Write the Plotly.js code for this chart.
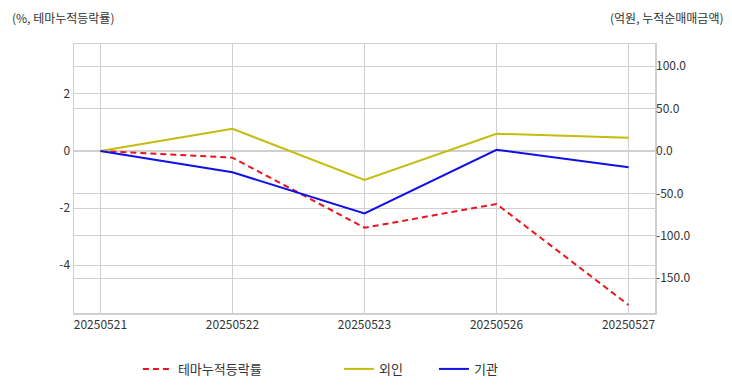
<!DOCTYPE html>
<html>
<head>
<meta charset="utf-8">
<script src="https://cdn.plot.ly/plotly-3.0.1.min.js"></script>
<style>html,body{margin:0;padding:0;background:#fff;}#chart{width:732px;height:392px;}</style>
</head>
<body>
<div id="chart"></div>
<script>
var dates = ["20250521", "20250522", "20250523", "20250526", "20250527"];
var themeRate = [0, -0.235, -2.69, -1.86, -5.40];
var foreign = [0, 26.3, -34.2, 20.4, 15.7];
var institution = [0, -25.1, -73.5, 1.5, -19.2];

var leftTickVals = [-4, -2, 0, 2];
var leftTickText = ["-4", "-2", "0", "2"];
var rightTickVals = [-150, -100, -50, 0, 50, 100];
var rightTickText = ["-150.0", "-100.0", "-50.0", "0.0", "50.0", "100.0"];

var FONT = "'Noto Sans CJK KR', 'Noto Sans', sans-serif";

var traces = [
  {x: dates, y: themeRate, name: "테마누적등락률", type: "scatter", mode: "lines",
   line: {color: "#e8141e", width: 2, dash: "6px,4px"}, yaxis: "y", legend: "legend"},
  {x: dates, y: foreign, name: "외인", type: "scatter", mode: "lines",
   line: {color: "#c4bc0e", width: 2}, yaxis: "y2", legend: "legend2"},
  {x: dates, y: institution, name: "기관", type: "scatter", mode: "lines",
   line: {color: "#1010e6", width: 2}, yaxis: "y2", legend: "legend2"}
];

var layout = {
  width: 732, height: 392,
  margin: {l: 74, r: 77, t: 44, b: 79, autoexpand: false},
  paper_bgcolor: "#ffffff", plot_bgcolor: "#ffffff",
  font: {family: FONT, size: 12, color: "#444"},
  showlegend: true,
  xaxis: {type: "category", range: [-0.2, 4.2], showgrid: true, gridcolor: "#d0d0d0",
    showline: true, mirror: true, linecolor: "#d0d0d0", linewidth: 1.5, ticks: "", zeroline: false,
    tickfont: {family: FONT, size: 12, color: "#333"}},
  yaxis: {range: [-5.68, 3.75], tickvals: leftTickVals, ticktext: leftTickText,
    showgrid: true, gridcolor: "#d0d0d0", zeroline: false, showline: true, mirror: true,
    linecolor: "#d0d0d0", linewidth: 1.5, ticks: "",
    tickfont: {family: FONT, size: 12, color: "#333"}},
  yaxis2: {overlaying: "y", side: "right", range: [-191, 126.2], tickvals: rightTickVals,
    ticktext: rightTickText, showgrid: true, gridcolor: "#d0d0d0", zeroline: false, showline: false,
    ticks: "", tickfont: {family: FONT, size: 12, color: "#333"}},
  legend: {orientation: "h", x: 0.11, xanchor: "left", y: -0.208, yanchor: "middle",
    font: {family: FONT, size: 13, color: "#333"}, bgcolor: "rgba(0,0,0,0)"},
  legend2: {orientation: "h", x: 0.456, xanchor: "left", y: -0.208, yanchor: "middle",
    entrywidth: 50,
    font: {family: FONT, size: 13, color: "#333"}, bgcolor: "rgba(0,0,0,0)"},
  annotations: [
    {text: "(%, 테마누적등락률)", xref: "paper", yref: "paper", x: -0.11, xanchor: "left",
     y: 1.1, yanchor: "middle", showarrow: false, font: {family: FONT, size: 12, color: "#333"}},
    {text: "(억원, 누적순매매금액)", xref: "paper", yref: "paper", x: 1.122, xanchor: "right",
     y: 1.1, yanchor: "middle", showarrow: false, font: {family: FONT, size: 12, color: "#333"}}
  ]
};

Plotly.newPlot("chart", traces, layout, {displayModeBar: false, staticPlot: true});
</script>
</body>
</html>
